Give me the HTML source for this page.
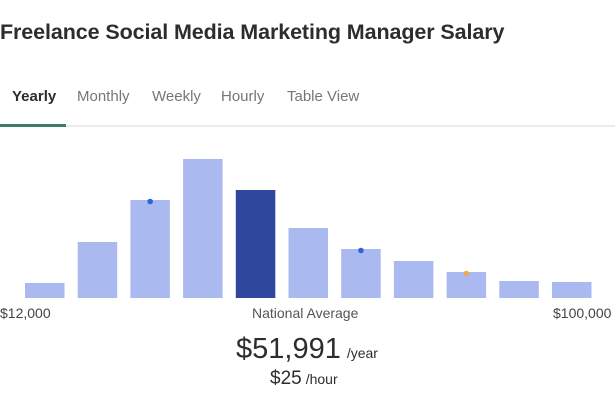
<!DOCTYPE html>
<html><head><meta charset="utf-8"><style>
body{margin:0;width:615px;height:410px;background:#fff;font-family:"Liberation Sans",sans-serif;position:relative;overflow:hidden;color:#2d2d2d}
.a{position:absolute;white-space:nowrap}
</style></head><body>
<div class="a" style="left:0;top:20px;font-size:21.5px;font-weight:bold;color:#2d2d2d;letter-spacing:-0.1px">Freelance Social Media Marketing Manager Salary</div>
<div class="a" style="left:12px;top:88px;font-size:15px;font-weight:bold;color:#2d2d2d">Yearly</div>
<div class="a" style="left:77px;top:88px;font-size:15px;color:#767676">Monthly</div>
<div class="a" style="left:152px;top:88px;font-size:15px;color:#767676">Weekly</div>
<div class="a" style="left:221px;top:88px;font-size:15px;color:#767676">Hourly</div>
<div class="a" style="left:287px;top:88px;font-size:15px;color:#767676">Table View</div>
<div class="a" style="left:0;top:125px;width:615px;height:2px;background:#ececec"></div>
<div class="a" style="left:0;top:124px;width:66px;height:3px;background:#3f7b63"></div>
<svg class="a" style="left:0;top:0" width="615" height="410" id="chart"></svg>
<div class="a" style="left:0;top:305px;font-size:14px;color:#444">$12,000</div>
<div class="a" style="left:252px;top:305px;font-size:14px;color:#555">National Average</div>
<div class="a" style="left:553px;top:305px;font-size:14px;color:#444">$100,000</div>
<div class="a" style="left:236px;top:333px;font-size:29px;color:#2d2d2d">$51,991<span style="font-size:14px;margin-left:6px">/year</span></div>
<div class="a" style="left:270px;top:368px;font-size:19px;color:#2d2d2d">$25<span style="font-size:14px;margin-left:4px">/hour</span></div>
<script>
const bins=[1,2,3,4,5,6,7,8,9,10,11];
const heights=[15,56,98,139,108,70,49,37,26,17,16];
const highlight=[0,0,0,0,1,0,0,0,0,0,0];
const markers=[null,null,'#2a66d9',null,null,null,'#2a66d9',null,'#f0a84a',null,null];
const svg=document.getElementById('chart');
const NS='http://www.w3.org/2000/svg';
const x0=25,step=52.7,bw=39.5,base=298;
function xs(i){return x0+i*step;}
function ys(v){return base-v;}
bins.forEach((b,i)=>{
 const r=document.createElementNS(NS,'rect');
 r.setAttribute('x',xs(i));r.setAttribute('y',ys(heights[i]));
 r.setAttribute('width',bw);r.setAttribute('height',heights[i]);
 r.setAttribute('fill',highlight[i]?'#30479e':'#aab9f0');
 
 
 svg.appendChild(r);
 if(markers[i]){
  const c=document.createElementNS(NS,'circle');
  c.setAttribute('cx',xs(i)+bw/2);c.setAttribute('cy',ys(heights[i])+1.5);
  c.setAttribute('r',2.8);c.setAttribute('fill',markers[i]);
  
  
  svg.appendChild(c);
 }
});
</script>
</body></html>
